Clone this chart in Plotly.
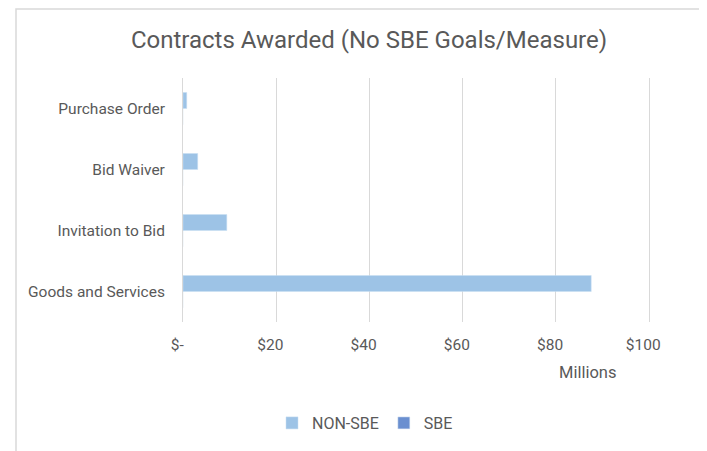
import plotly.graph_objects as go

categories = ["Goods and Services", "Invitation to Bid", "Bid Waiver", "Purchase Order"]
non_sbe = [87.6, 9.4, 3.15, 0.8]   # millions
sbe = [0, 0, 0, 0]
tick_vals = [0, 20, 40, 60, 80, 100]
tick_text = ["$-", "$20", "$40", "$60", "$80", "$100"]

font_family = "Roboto, Open Sans, sans-serif"
grey = "#595959"

# page body adds an 8px offset; compensate
W, H = 699, 443
L, R, T, B = 175, 58, 70, 129
pw, ph = W - L - R, H - T - B

def px(x):  # page x -> paper x
    return (x - 8 - L) / pw

def py(y):  # page y -> paper y
    return (H - B - (y - 8)) / ph

fig = go.Figure()
fig.add_trace(go.Bar(y=categories, x=sbe, orientation="h", name="SBE",
                     marker=dict(color="#6A8FD0"), legendrank=2))
fig.add_trace(go.Bar(y=categories, x=non_sbe, orientation="h", name="NON-SBE",
                     marker=dict(color="#9DC3E6", line=dict(color="#C9DEF2", width=0.5)),
                     legendrank=1))

fig.update_layout(
    width=W, height=H,
    margin=dict(l=L, r=R, t=T, b=B, autoexpand=False),
    paper_bgcolor="white", plot_bgcolor="white",
    barmode="group", bargap=0.475, bargroupgap=0,
    title=dict(text="Contracts Awarded (No SBE Goals/Measure)",
               x=px(369), xanchor="center", y=1 - (40 - 8) / H, yanchor="middle",
               xref="paper",
               font=dict(family=font_family, size=24, color=grey)),
    font=dict(family=font_family, size=15.5, color=grey),
    showlegend=True,
    legend=dict(orientation="h", x=px(365), xanchor="center", y=py(423), yanchor="middle",
                font=dict(size=16, color=grey), traceorder="normal",
                itemwidth=30),
    xaxis=dict(range=[0, 100], tickvals=tick_vals,
               ticktext=[t + "\u00a0\u00a0\u00a0" for t in tick_text],
               showgrid=True, gridcolor="#D9D9D9", gridwidth=1,
               zeroline=False, showline=False,
               ticks="outside", ticklen=8, tickcolor="rgba(0,0,0,0)",
               tickfont=dict(size=15.5, color=grey)),
    yaxis=dict(type="category", categoryorder="array", categoryarray=categories,
               showgrid=False, zeroline=False,
               showline=True, mirror=True, linecolor="#D9D9D9", linewidth=1,
               ticks="outside", ticklen=14, tickcolor="rgba(0,0,0,0)",
               tickfont=dict(size=15.5, color=grey)),
    annotations=[dict(text="Millions", x=px(588), y=py(372),
                      xref="paper", yref="paper", showarrow=False,
                      xanchor="center", yanchor="middle",
                      font=dict(size=16.5, color=grey, family=font_family))],
    shapes=[dict(type="rect", xref="paper", yref="paper",
                 x0=px(16), x1=px(760), y0=py(520), y1=py(9),
                 line=dict(color="#D9D9D9", width=1.5), fillcolor="rgba(0,0,0,0)",
                 layer="below")],
)

fig.write_html("out.html")
